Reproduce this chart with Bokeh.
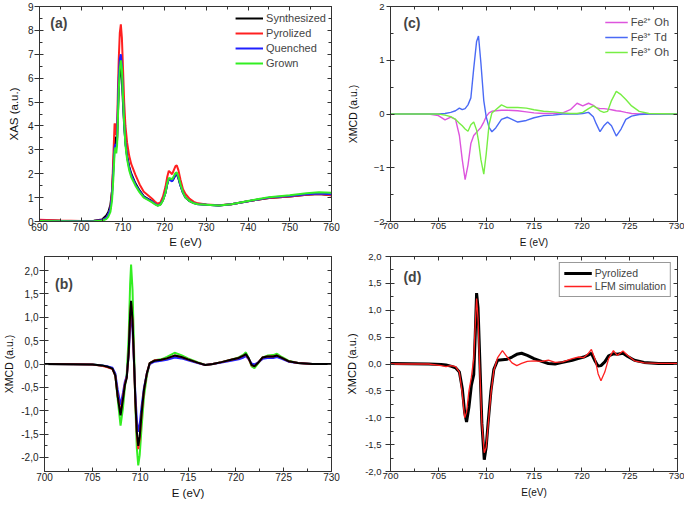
from bokeh.plotting import figure
from bokeh.models import (LinearAxis, FixedTicker, Legend, LegendItem, Label,
                          CustomJSTickFormatter, CustomLabelingPolicy)
from bokeh.layouts import column, row
from bokeh.embed import file_html
from bokeh.resources import INLINE

FONT = "Liberation Sans"
AX = "#333333"

# ---------------- panel (a): XAS ----------------
a_x = [690, 695, 700, 703, 705, 706, 706.5, 707, 707.4, 707.7, 708.0, 708.2, 708.4, 708.6,
       708.8, 709.0, 709.25, 709.5, 709.75, 710.0, 710.3, 710.6, 711.0, 711.5, 712, 713,
       714, 715, 716, 717, 717.7, 718.3, 719, 719.6, 720.2, 720.6, 721.0, 721.4, 721.8,
       722.2, 722.6, 722.9, 723.3, 723.8, 724.4, 725, 726, 727, 728, 730, 733, 736, 740,
       745, 750, 754, 757, 760]
a_synthesized = [0.05, 0.03, 0.02, 0.03, 0.08, 0.25, 0.4, 0.7, 1.3, 2.3, 3.4, 3.55, 3.2, 3.4,
                 4.5, 5.5, 6.2, 6.45, 6.0, 5.0, 4.0, 3.3, 2.75, 2.3, 2.0, 1.6,
                 1.3, 1.05, 0.95, 0.85, 0.75, 0.68, 0.72, 0.9, 1.2, 1.55, 1.78, 1.75, 1.7,
                 1.8, 1.95, 1.98, 1.8, 1.5, 1.2, 1.0, 0.85, 0.77, 0.73, 0.7, 0.67, 0.72, 0.85,
                 0.98, 1.05, 1.12, 1.15, 1.1]
a_pyrolized = [0.07, 0.04, 0.02, 0.02, 0.05, 0.15, 0.3, 0.55, 1.3, 2.7, 4.1, 4.05, 3.6, 3.9,
               5.5, 6.8, 7.9, 8.25, 7.7, 6.5, 5.0, 4.0, 3.3, 2.75, 2.4, 1.95,
               1.55, 1.25, 1.1, 0.95, 0.83, 0.75, 0.8, 1.05, 1.45, 1.85, 2.12, 2.05, 1.98,
               2.15, 2.32, 2.35, 2.15, 1.75, 1.35, 1.15, 0.95, 0.82, 0.76, 0.71, 0.68, 0.72, 0.85,
               0.98, 1.05, 1.12, 1.15, 1.1]
a_quenched = [0.03, 0.02, 0.01, 0.02, 0.05, 0.15, 0.3, 0.55, 1.1, 2.1, 3.1, 3.25, 3.1, 3.5,
              4.8, 6.0, 6.8, 7.0, 6.5, 5.3, 4.1, 3.3, 2.7, 2.25, 1.95, 1.55,
              1.27, 1.03, 0.93, 0.83, 0.74, 0.67, 0.72, 0.9, 1.22, 1.55, 1.8, 1.72, 1.68,
              1.82, 1.97, 2.0, 1.83, 1.5, 1.2, 1.0, 0.85, 0.77, 0.72, 0.7, 0.67, 0.72, 0.85,
              1.0, 1.07, 1.14, 1.17, 1.14]
a_grown = [0.02, 0.01, 0.0, 0.01, 0.03, 0.1, 0.2, 0.4, 0.9, 1.8, 2.9, 3.1, 2.85, 3.2,
           4.3, 5.5, 6.4, 6.75, 6.4, 5.3, 4.1, 3.2, 2.6, 2.15, 1.85, 1.5,
           1.22, 1.0, 0.9, 0.8, 0.72, 0.66, 0.7, 0.88, 1.2, 1.58, 1.82, 1.8, 1.77,
           1.9, 2.03, 2.06, 1.88, 1.55, 1.22, 1.0, 0.85, 0.76, 0.72, 0.7, 0.67, 0.72, 0.86,
           1.02, 1.1, 1.18, 1.22, 1.2]
a_xticks = [690, 700, 710, 720, 730, 740, 750, 760]
a_yticks = [0, 1, 2, 3, 4, 5, 6, 7, 8, 9]

# ---------------- panel (b): XMCD of the four samples ----------------
b_x = [700, 703, 705, 706, 706.6, 707.1, 707.4, 707.65, 707.95, 708.2, 708.4, 708.6, 708.8,
       708.95, 709.05, 709.2, 709.35, 709.5, 709.65, 709.8, 709.95, 710.15, 710.4, 710.7,
       711.0, 711.5, 712.2, 712.8, 713.6, 714.3, 715, 716, 716.8, 717.6, 718.5, 719.5,
       720.3, 720.8, 721.05, 721.35, 721.65, 721.95, 722.3, 722.8, 723.3, 723.9, 724.3,
       724.8, 725.5, 726.5, 728, 730]
b_synthesized = [0.0, -0.005, -0.01, -0.03, -0.06, -0.1, -0.25, -0.7, -1.1, -0.75, -0.45, -0.3, 0.25,
                 1.05, 1.35, 0.95, 0.1, -0.8, -1.45, -1.75, -1.55, -1.05, -0.55, -0.2,
                 0.02, 0.07, 0.09, 0.12, 0.18, 0.15, 0.1, 0.03, -0.02, 0.0, 0.04, 0.09,
                 0.13, 0.18, 0.21, 0.12, -0.02, -0.05, 0.02, 0.14, 0.16, 0.16, 0.18,
                 0.13, 0.06, 0.02, 0.0, 0.0]
b_pyrolized = [0.0, -0.005, -0.01, -0.04, -0.07, -0.11, -0.25, -0.68, -1.05, -0.72, -0.43, -0.28, 0.22,
               1.0, 1.3, 0.92, 0.08, -0.82, -1.5, -1.82, -1.6, -1.08, -0.56, -0.2,
               0.02, 0.08, 0.09, 0.12, 0.18, 0.15, 0.1, 0.03, -0.02, 0.0, 0.04, 0.09,
               0.13, 0.18, 0.2, 0.11, -0.03, -0.05, 0.02, 0.14, 0.16, 0.16, 0.18,
               0.13, 0.06, 0.02, 0.0, 0.0]
b_quenched = [0.0, -0.005, -0.01, -0.03, -0.05, -0.08, -0.2, -0.55, -0.88, -0.62, -0.38, -0.25, 0.18,
              0.8, 1.03, 0.75, 0.05, -0.65, -1.2, -1.45, -1.3, -0.9, -0.5, -0.2,
              0.0, 0.05, 0.07, 0.09, 0.14, 0.12, 0.08, 0.02, -0.02, 0.0, 0.03, 0.07,
              0.1, 0.14, 0.17, 0.1, 0.01, -0.01, 0.03, 0.11, 0.13, 0.13, 0.15,
              0.11, 0.05, 0.02, 0.0, 0.0]
b_grown = [0.0, -0.005, -0.01, -0.03, -0.06, -0.1, -0.22, -0.75, -1.32, -0.95, -0.5, -0.2, 0.6,
           1.7, 2.13, 1.6, 0.4, -0.9, -1.8, -2.17, -1.95, -1.35, -0.7, -0.25,
           0.02, 0.08, 0.1, 0.15, 0.24, 0.19, 0.12, 0.04, -0.02, 0.0, 0.04, 0.09,
           0.14, 0.2, 0.25, 0.12, -0.05, -0.09, 0.0, 0.14, 0.18, 0.19, 0.22,
           0.15, 0.07, 0.02, 0.0, 0.0]
b_yticks = [-2.0, -1.5, -1.0, -0.5, 0.0, 0.5, 1.0, 1.5, 2.0]
b_ytick_labels = ["-2,0", "-1,5", "-1,0", "-0,5", "0,0", "0,5", "1,0", "1,5", "2,0"]

# ---------------- panel (c): calculated site contributions ----------------
c_x = [700, 704, 705, 705.7, 706.3, 706.8, 707.2, 707.5, 707.8, 708.1, 708.4, 708.7, 709.0,
       709.2, 709.45, 709.75, 710.0, 710.3, 710.6, 711.0, 711.6, 712.2, 713.3, 714.2, 715,
       716, 717, 718, 718.8, 719.5, 720.1, 720.7, 721.2, 721.5, 721.9, 722.3, 722.7, 723.1,
       723.6, 724.1, 724.6, 725.2, 726, 727, 730]
c_fe2_oh = [0, 0, -0.03, -0.11, -0.06, -0.1, -0.4, -0.85, -1.22, -0.95, -0.55, -0.4, -0.34,
            -0.3, -0.25, -0.15, -0.05, 0.02, 0.05, 0.06, 0.07, 0.07, 0.06, 0.04, 0.02,
            0.01, 0.01, 0.02, 0.08, 0.2, 0.15, 0.2, 0.16, 0.12, 0.1, 0.1, 0.09, 0.08,
            0.06, 0.05, 0.03, 0.01, 0.0, 0.0, 0.0]
c_fe3_td = [0, 0, 0.0, 0.01, 0.03, 0.06, 0.11, 0.08, 0.1, 0.17, 0.3, 0.85, 1.35,
            1.45, 0.95, 0.25, -0.05, -0.25, -0.33, -0.26, -0.1, -0.06, -0.15, -0.12, -0.07,
            -0.03, -0.02, 0.0, 0.0, 0.0, 0.01, 0.03, -0.05, -0.18, -0.33, -0.22, -0.15, -0.22,
            -0.41, -0.28, -0.1, -0.04, -0.01, 0.0, 0.0]
c_fe3_oh = [0, 0, 0.0, -0.02, -0.05, -0.1, -0.17, -0.22, -0.28, -0.32, -0.2, -0.15, -0.3,
            -0.5, -0.85, -1.12, -0.75, -0.2, 0.02, 0.08, 0.17, 0.12, 0.12, 0.11, 0.08,
            0.05, 0.04, 0.02, 0.01, 0.01, 0.03, 0.1, 0.15, 0.12, 0.06, 0.03, 0.05, 0.25,
            0.42, 0.36, 0.27, 0.15, 0.05, 0.01, 0.0]
c_yticks = [-2, -1, 0, 1, 2]

# ---------------- panel (d): experiment vs LFM simulation ----------------
d_x = [700, 704, 705.3, 705.8, 706.3, 706.8, 707.2, 707.5, 707.75, 707.95, 708.2, 708.45, 708.7,
       708.85, 709.0, 709.15, 709.35, 709.55, 709.8, 710.0, 710.2, 710.5, 710.8, 711.2, 711.7,
       712.2, 712.7, 713.2, 713.7, 714.3, 715, 715.8, 716.5, 717.2, 718, 719, 719.6, 720.2,
       720.6, 721.0, 721.4, 721.7, 722.0, 722.4, 722.8, 723.3, 723.7, 724.3, 724.8, 725.5,
       726.5, 728, 730]
d_pyrolized = [0.01, 0.0, -0.01, -0.02, -0.04, -0.07, -0.15, -0.45, -0.9, -1.08, -0.8, -0.4, -0.2,
               0.5, 1.32, 1.05, 0.0, -1.1, -1.78, -1.55, -1.1, -0.5, -0.1, 0.07, 0.08,
               0.09, 0.13, 0.18, 0.2, 0.16, 0.1, 0.05, 0.01, 0.0, 0.03, 0.07, 0.1, 0.13,
               0.16, 0.2, 0.05, -0.04, -0.03, 0.04, 0.15, 0.19, 0.18, 0.2, 0.14, 0.07,
               0.03, 0.01, 0.01]
d_lfm = [0.0, 0.0, -0.03, -0.05, -0.03, -0.05, -0.15, -0.55, -1.0, -0.9, -0.5, -0.25, 0.1,
         0.7, 1.22, 0.85, -0.2, -1.1, -1.65, -1.55, -1.15, -0.55, -0.12, 0.12, 0.25,
         0.13, 0.02, -0.03, 0.01, 0.05, 0.06, 0.05, 0.07, 0.03, 0.04, 0.1, 0.13, 0.12,
         0.18, 0.27, 0.08, -0.18, -0.31, -0.15, 0.1, 0.25, 0.16, 0.24, 0.16, 0.06,
         0.02, 0.01, 0.01]
d_yticks = [-2.0, -1.5, -1.0, -0.5, 0.0, 0.5, 1.0, 1.5, 2.0]
d_ytick_labels = ["-2,0", "-1,5", "-1,0", "-0,5", "0,0", "0,5", "1,0", "1,5", "2,0"]

xmcd_xticks = [700, 705, 710, 715, 720, 725, 730]


def minor_between(ticks):
    return [(ticks[i] + ticks[i + 1]) / 2 for i in range(len(ticks) - 1)]


def label_formatter(vals, labels):
    return CustomJSTickFormatter(args=dict(vals=vals, labs=labels), code="""
        for (let i = 0; i < vals.length; i++) {
            if (Math.abs(vals[i] - tick) < 1e-6) { return labs[i]; }
        }
        return '';
    """)


NO_LABELS = CustomLabelingPolicy(code="return new Set()")


def make_panel(width, height, xr, yr, borders, xticks, yticks, tick_size, xlab, xlab_size,
               ylab, ylab_size, ytick_out, ytick_standoff, ylab_standoff, xtick_out=3,
               xlab_standoff=2, yformatter=None):
    left, right, top, bottom = borders
    p = figure(width=width, height=height, x_range=xr, y_range=yr,
               output_backend="svg", toolbar_location=None,
               min_border_left=left, min_border_right=right,
               min_border_top=top, min_border_bottom=bottom)
    p.xgrid.visible = False
    p.ygrid.visible = False
    p.outline_line_color = AX
    p.outline_line_width = 1
    p.background_fill_color = "white"
    p.border_fill_color = "white"

    xa = p.xaxis[0]
    ya = p.yaxis[0]
    xa.ticker = FixedTicker(ticks=xticks, minor_ticks=minor_between(xticks))
    ya.ticker = FixedTicker(ticks=yticks, minor_ticks=minor_between(yticks))
    if yformatter is not None:
        ya.formatter = yformatter
    for ax in (xa, ya):
        ax.major_tick_in = 4
        ax.minor_tick_in = 3
        ax.minor_tick_out = 0
        ax.axis_line_color = AX
        ax.major_tick_line_color = AX
        ax.minor_tick_line_color = AX
        ax.major_label_text_font = FONT
        ax.major_label_text_font_size = tick_size
        ax.major_label_text_color = "#222222"
        ax.axis_label_text_font = FONT
        ax.axis_label_text_font_style = "normal"
        ax.axis_label_text_color = "#111111"
    xa.major_tick_out = xtick_out
    xa.major_label_standoff = 1
    xa.axis_label = xlab
    xa.axis_label_text_font_size = xlab_size
    xa.axis_label_standoff = xlab_standoff
    ya.major_tick_out = ytick_out
    ya.major_label_standoff = ytick_standoff
    ya.axis_label = ylab
    ya.axis_label_text_font_size = ylab_size
    ya.axis_label_standoff = ylab_standoff

    for side, ticks in (("above", xticks), ("right", yticks)):
        m = LinearAxis(ticker=FixedTicker(ticks=ticks, minor_ticks=minor_between(ticks)),
                       major_label_policy=NO_LABELS, major_label_text_font_size="2px",
                       major_label_standoff=0,
                       major_tick_in=4, major_tick_out=0, minor_tick_in=3, minor_tick_out=0,
                       axis_line_color=AX, major_tick_line_color=AX,
                       minor_tick_line_color=AX)
        p.add_layout(m, side)
    return p


def add_legend(p, items, font_size, margin, padding, glyph_w, glyph_h, spacing, border=None):
    lg = Legend(items=[LegendItem(label=t, renderers=[r]) for t, r in items],
                location="top_right", label_text_font=FONT, label_text_font_size=font_size,
                glyph_width=glyph_w, glyph_height=glyph_h, label_height=glyph_h,
                spacing=spacing, padding=padding, margin=margin, label_standoff=3,
                background_fill_alpha=0 if border is None else 1,
                border_line_color=border, border_line_width=1)
    p.add_layout(lg)


def panel_tag(p, x, y, text):
    p.add_layout(Label(x=x, y=y, text=text, text_font=FONT, text_font_size="14px",
                       text_font_style="bold", text_baseline="middle", text_align="left"))


# ---- (a)
pa = make_panel(340, 252, (690, 760), (0, 9), (39, 9, 6, 31), a_xticks, a_yticks,
                "10px", "E (eV)", "11.5px", "XAS (a.u.)", "11.5px", 5, 1, 5,
                xtick_out=0, xlab_standoff=2)
ra1 = pa.line(a_x, a_synthesized, line_color="#000000", line_width=2)
ra2 = pa.line(a_x, a_pyrolized, line_color="#ff2020", line_width=2)
ra3 = pa.line(a_x, a_quenched, line_color="#2020ff", line_width=2)
ra4 = pa.line(a_x, a_grown, line_color="#33ee22", line_width=2)
add_legend(pa, [("Synthesized", ra1), ("Pyrolized", ra2), ("Quenched", ra3), ("Grown", ra4)],
           "11px", 5, 1, 28, 14, 1)
panel_tag(pa, 692.6, 8.3, "(a)")

# ---- (c)
pc = make_panel(344, 252, (700, 730), (-2, 2), (50, 7, 6, 31), xmcd_xticks, c_yticks,
                "9.5px", "E (eV)", "10px", "XMCD (a.u.)", "10.5px", 4, 2, 12,
                xtick_out=0, xlab_standoff=5)
rc1 = pc.line(c_x, c_fe2_oh, line_color="#dd55dd", line_width=1.4)
rc2 = pc.line(c_x, c_fe3_td, line_color="#4a6af5", line_width=1.4)
rc3 = pc.line(c_x, c_fe3_oh, line_color="#77ee44", line_width=1.4)
add_legend(pc, [("Fe²⁺ Oh", rc1), ("Fe³⁺ Td", rc2), ("Fe³⁺ Oh", rc3)],
           "11px", 8, 2, 23, 14, 0)
panel_tag(pc, 701.35, 1.69, "(c)")

# ---- (b)
pb = make_panel(340, 253, (700, 730), (-2.3, 2.3), (39, 9, 4, 34), xmcd_xticks, b_yticks,
                "10px", "E (eV)", "11.5px", "XMCD (a.u.)", "10.5px", 5, 1, 3,
                xtick_out=0, xlab_standoff=3,
                yformatter=label_formatter(b_yticks, b_ytick_labels))
pb.line(b_x, b_grown, line_color="#33ee22", line_width=2)
pb.line(b_x, b_quenched, line_color="#2020ff", line_width=2)
pb.line(b_x, b_pyrolized, line_color="#ff2020", line_width=2)
pb.line(b_x, b_synthesized, line_color="#000000", line_width=2)
panel_tag(pb, 701.1, 1.72, "(b)")

# ---- (d)
pd_ = make_panel(344, 253, (700, 730), (-2, 2), (50, 7, 4, 34), xmcd_xticks, d_yticks,
                 "9.5px", "E(eV)", "10px", "XMCD (a.u.)", "11px", 5, 4, 4,
                 xtick_out=0, xlab_standoff=5,
                 yformatter=label_formatter(d_yticks, d_ytick_labels))
rd1 = pd_.line(d_x, d_pyrolized, line_color="#000000", line_width=3)
rd2 = pd_.line(d_x, d_lfm, line_color="#ff2020", line_width=1.3)
add_legend(pd_, [("Pyrolized", rd1), ("LFM simulation", rd2)],
           "10.5px", 6, 4, 28, 12, 1, border="#333333")
panel_tag(pd_, 701.35, 1.61, "(d)")

layout = column(row(pa, pc), row(pb, pd_))

open("out.html", "w").write(file_html(layout, INLINE))
